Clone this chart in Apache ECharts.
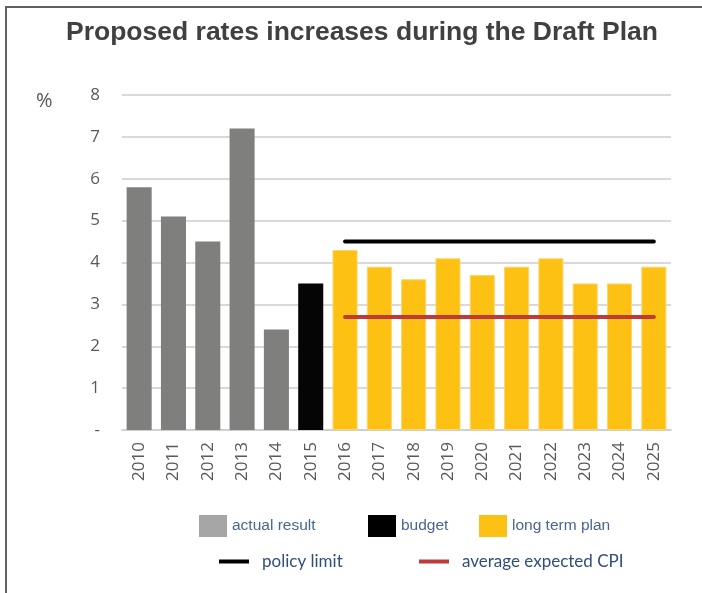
<!DOCTYPE html>
<html>
<head>
<meta charset="UTF-8">
<title>Proposed rates increases during the Draft Plan</title>
<script src="https://cdn.jsdelivr.net/npm/echarts@6/dist/echarts.min.js"></script>
<style>
  html, body { margin: 0; padding: 0; background: #fff; }
  #chart { width: 702px; height: 593px; }
</style>
</head>
<body>
<div id="chart"></div>
<script>
  // data
  var years = ['2010','2011','2012','2013','2014','2015','2016','2017','2018','2019','2020','2021','2022','2023','2024','2025'];
  var actualResult = [5.8, 5.1, 4.5, 7.2, 2.4, null, null, null, null, null, null, null, null, null, null, null];
  var budget       = [null, null, null, null, null, 3.5, null, null, null, null, null, null, null, null, null, null];
  var longTermPlan = [null, null, null, null, null, null, 4.3, 3.9, 3.6, 4.1, 3.7, 3.9, 4.1, 3.5, 3.5, 3.9];
  var policyLimit  = [null, null, null, null, null, null, 4.5, 4.5, 4.5, 4.5, 4.5, 4.5, 4.5, 4.5, 4.5, 4.5];
  var expectedCPI  = [null, null, null, null, null, null, 2.7, 2.7, 2.7, 2.7, 2.7, 2.7, 2.7, 2.7, 2.7, 2.7];
  var yTicks = ['-', '1', '2', '3', '4', '5', '6', '7', '8'];

  var chart = echarts.init(document.getElementById('chart'));

  var legendText1 = { fontFamily: 'Liberation Sans', fontSize: 15.5, color: '#4A6591' };
  var legendText2 = { fontFamily: 'Lato', fontSize: 17, color: '#2F4E7E', padding: [0, 0, 0, 8] };

  function barLegend(name, left, color) {
    return {
      left: left, top: 515, padding: 0,
      itemWidth: 28, itemHeight: 22, itemGap: 0,
      selectedMode: false,
      textStyle: legendText1,
      data: [{ name: name, icon: 'rect', itemStyle: { color: color, borderWidth: 0 } }]
    };
  }
  function lineLegend(name, left, color) {
    return {
      left: left, top: 553, padding: 0,
      itemWidth: 30, itemHeight: 20, itemGap: 0,
      selectedMode: false,
      textStyle: legendText2,
      data: [{ name: name, icon: 'path://M0,8 L30,8 L30,12 L0,12 Z', itemStyle: { color: color, borderWidth: 0 } }]
    };
  }

  var option = {
    animation: false,
    title: {
      text: 'Proposed rates increases during the Draft Plan',
      left: 357, top: 14, textAlign: 'center',
      textStyle: { fontFamily: 'Liberation Sans', fontWeight: 'bold', fontSize: 26.5, color: '#404040' }
    },
    graphic: [
      { type: 'polyline', shape: { points: [[6, 593], [6, 7], [702, 7]] },
        style: { stroke: '#606060', lineWidth: 2, fill: null } },
      { type: 'text', left: 36, top: 91,
        style: { text: '%', fontFamily: 'Open Sans', fontSize: 20, fill: '#595959' } }
    ],
    legend: [
      barLegend('actual result', 199, '#A6A6A6'),
      barLegend('budget', 368, '#000000'),
      barLegend('long term plan', 479, '#FCC112'),
      lineLegend('policy limit', 219, '#000000'),
      lineLegend('average expected CPI', 419, '#C0393B')
    ],
    grid: { left: 122, right: 31, top: 95, bottom: 163 },
    xAxis: {
      type: 'category',
      data: years,
      axisLine: { lineStyle: { color: '#D0D0D0', width: 2 } },
      axisTick: { show: false },
      axisLabel: { rotate: 90, margin: 12, fontFamily: 'Open Sans', fontSize: 17, color: '#595959' }
    },
    yAxis: {
      type: 'value',
      min: 0, max: 8, interval: 1,
      axisLine: { show: false },
      axisTick: { show: false },
      splitLine: { lineStyle: { color: '#D9D9D9', width: 2 } },
      axisLabel: {
        margin: 22, fontFamily: 'Open Sans', fontSize: 17, color: '#595959',
        formatter: function (v) { return yTicks[Math.round(v)]; }
      }
    },
    series: [
      { name: 'actual result', type: 'bar', stack: 'r', barCategoryGap: '27%',
        itemStyle: { color: '#7F7F7E' }, data: actualResult },
      { name: 'budget', type: 'bar', stack: 'r',
        itemStyle: { color: '#050505' }, data: budget },
      { name: 'long term plan', type: 'bar', stack: 'r',
        itemStyle: { color: '#FCC112', borderColor: '#FDD56A', borderWidth: 1 }, data: longTermPlan },
      { name: 'policy limit', type: 'line', symbol: 'none', z: 5,
        lineStyle: { color: '#000000', width: 4, cap: 'round' }, data: policyLimit },
      { name: 'average expected CPI', type: 'line', symbol: 'none', z: 5,
        lineStyle: { color: '#C0393B', width: 4, cap: 'round' }, data: expectedCPI }
    ]
  };

  chart.setOption(option);
</script>
</body>
</html>
